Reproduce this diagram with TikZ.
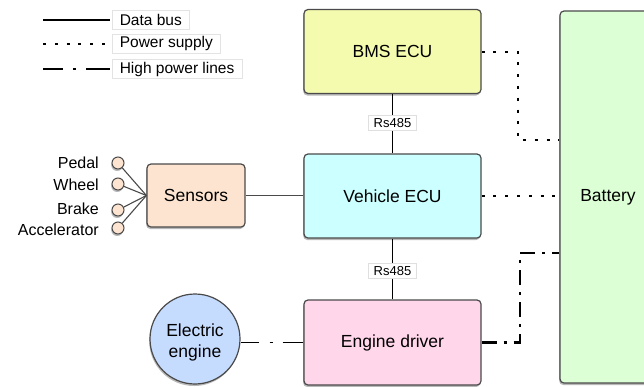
\documentclass[tikz,border=0pt]{standalone}
\usepackage{fontspec}
\setmainfont{Liberation Sans}
\usetikzlibrary{shadows}
\definecolor{bmsc}{HTML}{F4FAAE}
\definecolor{vecuc}{HTML}{CCFFFF}
\definecolor{engc}{HTML}{FFD6EA}
\definecolor{senc}{HTML}{FDE4D0}
\definecolor{batc}{HTML}{DDFFD6}
\definecolor{elc}{HTML}{C6DCFF}
\definecolor{borderc}{HTML}{4A4A4A}
\begin{document}
\begin{tikzpicture}[x=1pt,y=-1pt,
  shad/.style={drop shadow={shadow xshift=-0.8pt,shadow yshift=-2pt,opacity=0.28,fill=black}},
  box/.style={draw=borderc,line width=1.2pt,rounded corners=4pt,minimum width=177pt,minimum height=84pt,
    inner sep=0pt,font=\fontsize{17.5}{21}\selectfont,shad},
  sc/.style={circle,draw=borderc,line width=1pt,fill=senc,minimum size=12pt,inner sep=0pt,shad},
  slab/.style={anchor=east,inner sep=0pt,font=\fontsize{16}{19}\selectfont},
  rlab/.style={draw=gray!25,line width=0.6pt,fill=white,inner xsep=5.5pt,inner ysep=3pt,font=\fontsize{13}{15}\selectfont},
  leglab/.style={anchor=west,draw=gray!22,line width=0.6pt,fill=white,inner xsep=7.5pt,inner ysep=2pt,minimum height=19pt,font=\fontsize{15.5}{18}\selectfont},
  bus/.style={black,line width=1.5pt},
  thinbus/.style={borderc,line width=1.1pt},
  pow/.style={black,line width=2pt,dash pattern=on 3pt off 8.8pt},
  hpow/.style={black,line width=2.6pt,dash pattern=on 15pt off 7pt on 3pt off 7pt},
  hpowthin/.style={black,line width=1.7pt,dash pattern=on 18pt off 11pt on 3pt off 10pt on 30pt off 10pt},
  leghp/.style={black,line width=2pt,dash pattern=on 20pt off 10pt on 3pt off 10pt on 30pt off 10pt}
]
\useasboundingbox (0,0) rectangle (644,386);
\clip (0,0) rectangle (644,386);

% legend
\coordinate (d1) at (43,20); \coordinate (d2) at (110,20);
\coordinate (p1) at (43,43.5); \coordinate (p2) at (112,43.5);
\coordinate (h1l) at (43,69); \coordinate (h2l) at (110,69);
\draw[bus,line width=2pt] (d1) -- (d2);
\draw[pow] (p1) -- (p2);
\draw[leghp] (h1l) -- (h2l);
\node[leglab] (t1) at (112,20) {Data bus};
\node[leglab] (t2) at (112,43.5) {Power supply};
\node[leglab] (t3) at (112,69) {High power lines};

% main boxes
\node[box,fill=batc,minimum width=96pt,minimum height=372pt] (bat) at (608,197) {Battery};
\node[box,fill=bmsc] (bms) at (392.5,51.5) {BMS ECU};
\node[box,fill=vecuc] (vecu) at (392.5,196) {Vehicle ECU};
\node[box,fill=engc,minimum height=85pt] (drv) at (392.5,342.5) {Engine driver};
\node[box,fill=senc,minimum width=98pt,minimum height=63pt] (sens) at (196,195.5) {Sensors};
\node[box,circle,fill=elc,minimum size=90pt] (eng) at (195,339) {};
\node[inner sep=0pt,align=center,font=\fontsize{17.5}{21}\selectfont] (engt) at (195,342.5) {Electric\\engine};

% Rs485 data buses
\node[rlab] (r1) at (392.5,123) {Rs485};
\node[rlab] (r2) at (392.5,271) {Rs485};
\draw[bus] (bms.south) -- (r1.north);
\draw[bus] (r1.south) -- (vecu.north);
\draw[bus] (vecu.south) -- (r2.north);
\draw[bus] (r2.south) -- (drv.north);

% sensors
\node[sc] (c1) at (118,163) {};
\node[sc] (c2) at (118,184) {};
\node[sc] (c3) at (118,210) {};
\node[sc] (c4) at (118,228) {};
\node[slab] (l1) at (99,163) {Pedal};
\node[slab] (l2) at (99,185) {Wheel};
\node[slab] (l3) at (99,209) {Brake};
\node[slab] (l4) at (99,229.5) {Accelerator};
\draw[thinbus] (c1) -- (sens.west);
\draw[thinbus] (c2) -- (sens.west);
\draw[thinbus] (c3) -- (sens.west);
\draw[thinbus] (c4) -- (sens.west);
\draw[thinbus] (sens.east) -- (vecu.west |- sens.east);

% power supply
\coordinate (b1) at (518,51.5);
\coordinate (b2) at (518,140);
\draw[pow] (bms.east) -- (b1) -- (b2) -- (bat.west |- b2);
\draw[pow] (vecu.east) -- (vecu.east -| bat.west);

% high power
\coordinate (h1) at (520,253);
\coordinate (h2) at (520,342.5);
\draw[hpow] (drv.east) -- (h2) -- (h1) -- (bat.west |- h1);
\draw[hpowthin] (eng.east |- drv.west) -- (drv.west);
\end{tikzpicture}
\end{document}
